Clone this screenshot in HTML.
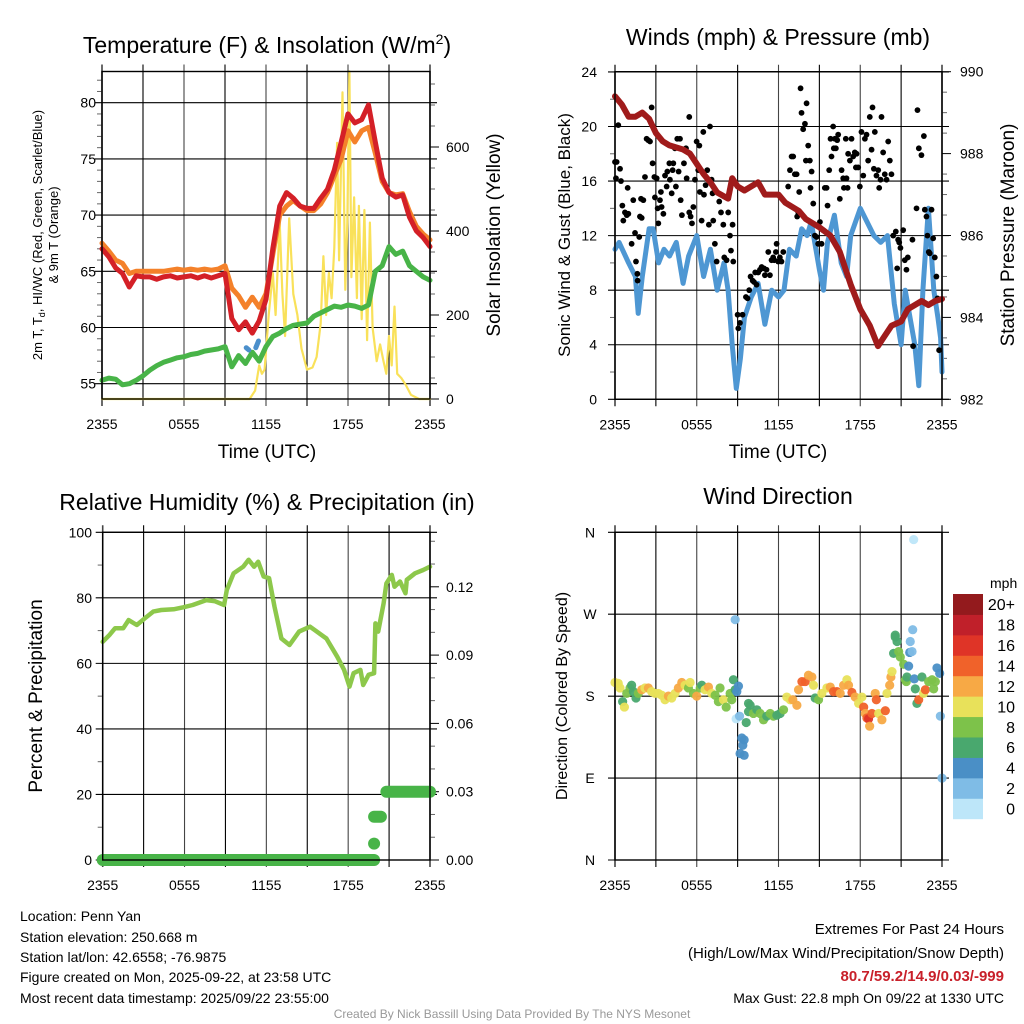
<!DOCTYPE html>
<html><head><meta charset="utf-8">
<style>
html,body{margin:0;padding:0;background:#fff;}
svg{display:block;font-family:"Liberation Sans",sans-serif;}
</style></head>
<body>
<svg id="c" width="1024" height="1024" viewBox="0 0 1024 1024" xmlns="http://www.w3.org/2000/svg">
<rect width="1024" height="1024" fill="#fff"/>
<g id="bg"></g>
<g id="marks"></g>
<g id="fg"></g>
<g id="txt" font-family="Liberation Sans, sans-serif" fill="#000">
 <text x="267" y="53" font-size="23" text-anchor="middle">Temperature (F) &amp; Insolation (W/m<tspan font-size="14" dy="-9">2</tspan><tspan dy="9">)</tspan></text>
 <text transform="translate(42,235) rotate(-90)" font-size="13" text-anchor="middle">2m T, T<tspan font-size="9" dy="3">d</tspan><tspan dy="-3">, HI/WC (Red, Green, Scarlet/Blue)</tspan></text>
 <text transform="translate(58,235) rotate(-90)" font-size="13" text-anchor="middle">&amp; 9m T (Orange)</text>
 <text transform="translate(500,235) rotate(-90)" font-size="19" text-anchor="middle">Solar Insolation (Yellow)</text>
 <text x="267" y="458" font-size="19" text-anchor="middle">Time (UTC)</text>

 <text x="778" y="45" font-size="23" text-anchor="middle">Winds (mph) &amp; Pressure (mb)</text>
 <text transform="translate(570,235) rotate(-90)" font-size="17" text-anchor="middle">Sonic Wind &amp; Gust (Blue, Black)</text>
 <text transform="translate(1014,235) rotate(-90)" font-size="19" text-anchor="middle">Station Pressure (Maroon)</text>
 <text x="778" y="458" font-size="19" text-anchor="middle">Time (UTC)</text>

 <text x="267" y="510" font-size="23" text-anchor="middle">Relative Humidity (%) &amp; Precipitation (in)</text>
 <text transform="translate(42,696) rotate(-90)" font-size="19" text-anchor="middle">Percent &amp; Precipitation</text>

 <text x="778" y="504" font-size="23" text-anchor="middle">Wind Direction</text>
 <text transform="translate(567,696) rotate(-90)" font-size="16" text-anchor="middle">Direction (Colored By Speed)</text>
 <text x="990" y="588" font-size="14">mph</text>

 <g font-size="14">
  <text x="20" y="921">Location: Penn Yan</text>
  <text x="20" y="942">Station elevation: 250.668 m</text>
  <text x="20" y="962">Station lat/lon: 42.6558; -76.9875</text>
  <text x="20" y="982">Figure created on Mon, 2025-09-22, at 23:58 UTC</text>
  <text x="20" y="1003">Most recent data timestamp: 2025/09/22 23:55:00</text>
 </g>
 <g text-anchor="end">
  <text x="1004" y="934" font-size="15">Extremes For Past 24 Hours</text>
  <text x="1004" y="958" font-size="15">(High/Low/Max Wind/Precipitation/Snow Depth)</text>
  <text x="1004" y="981" font-size="15" font-weight="bold" fill="#c8202a">80.7/59.2/14.9/0.03/-999</text>
  <text x="1004" y="1003" font-size="14">Max Gust: 22.8 mph On 09/22 at 1330 UTC</text>
 </g>
 <text x="512" y="1018" font-size="12" fill="#999" text-anchor="middle">Created By Nick Bassill Using Data Provided By The NYS Mesonet</text>
</g>
</svg>
<script>
// ---------------- DATA ----------------
const xTickLabels = ["2355","0555","1155","1755","2355"];
const tHours = [0,0.5,1,1.5,2,2.5,3,3.5,4,4.5,5,5.5,6,6.5,7,7.5,8,8.5,9,9.5,10,10.5,11,11.5,12,12.5,13,13.5,14,14.5,15,15.5,16,16.5,17,17.5,18,18.5,19,19.5,20,20.5,21,21.5,22,22.5,23,23.5,24];
const tempRed = [67,66.3,65.3,64.8,63.6,64.6,64.5,64.5,64.3,64.5,64.6,64.4,64.5,64.6,64.4,64.6,64.4,64.6,64.8,60.8,59.8,60.5,59.5,60.6,62.5,67,70.8,72,71.5,70.8,70.6,70.6,71.5,72.3,74,76.5,79,78.2,78.5,79.8,76.5,73.3,72,71.6,71.8,69.8,68.6,68,67.2];
const temp9m = [67.5,66.8,66,65.7,64.8,65,65,65,65,65,65.1,65.2,65.1,65.2,65.1,65.2,65.1,65.2,65.5,63.5,62.8,61.8,62.7,61.8,63,66.5,70,70.8,71.3,70.8,70.4,70.4,71,72,73.5,75,77.5,76.5,77.5,77.8,75.5,73,72,71.8,71.9,70.3,69,68.3,67.8];
const dewGreen = [55.3,55.5,55.4,54.9,55,55.3,55.7,56.2,56.6,56.9,57.1,57.3,57.4,57.6,57.7,57.9,58,58.1,58.3,56.5,57.5,56.8,57.8,57,58.3,59.2,59.5,59.9,60.2,60.3,60.4,61,61.3,61.6,61.9,61.8,62,61.9,61.7,62,65,65.5,67.2,66.5,66.8,65.5,65,64.5,64.2];
const hiHours = [10.55,10.75,11.25,11.45];
const hiBlue = [58.2,58.0,58.2,58.8];
const tempTicks = [55,60,65,70,75,80];
const solarHours = [0,10.8,11.2,11.5,11.7,11.9,12.2,12.5,12.7,13.0,13.2,13.4,13.7,14.0,14.3,14.6,15.0,15.4,15.7,16.0,16.2,16.4,16.6,16.8,17.0,17.2,17.35,17.6,17.8,17.95,18.1,18.25,18.45,18.65,18.8,19.0,19.2,19.4,19.6,19.8,20.1,20.35,20.6,20.8,21.0,21.2,21.4,21.6,21.9,22.2,22.6,23.2,24];
const solarVals = [0,0,20,80,60,70,200,300,200,420,250,150,430,250,200,120,70,75,100,180,340,200,300,240,360,610,330,730,260,420,780,290,480,240,460,190,450,140,420,170,90,130,90,60,150,80,220,60,50,35,10,0,0];
const solarTicks = [0,200,400,600];

const windHours = [0,0.3,1,1.5,1.7,2,2.5,2.8,3.2,3.6,4,4.5,5,5.4,6,6.5,7,7.5,8,8.3,8.6,8.9,9.2,9.5,10,10.5,11,11.5,12,12.4,12.8,13.3,13.7,14.1,14.4,15,15.3,15.6,16.1,16.6,17,17.3,18,18.5,19,19.5,20,20.5,21,21.3,22,22.3,22.6,23,23.4,23.7,23.9,24];
const windSpd = [11,11.5,10,9,6.3,9,12.5,12.5,10,11,10.5,11.5,8.5,10.5,12,9,11,8,10,8,4,0.8,3,6,7.5,8.5,5.5,8,7.5,8,11,10.5,12.5,12,13,9.5,8,11.5,13.5,10,9,12,14,13,12,11.5,12,7,4,8,4,1,8,14,8,6,4.5,2];
const gustHours = [0,0.12,0.24,0.07,0.37,0.44,0.54,0.61,0.73,0.86,0.98,0.93,1.22,1.34,1.47,1.54,1.66,1.64,1.78,1.83,1.96,1.91,2.08,2.2,2.32,2.44,2.57,2.69,2.76,2.89,2.93,3.06,3.13,3.18,3.3,3.37,3.42,3.55,3.67,3.79,3.84,3.99,4.03,4.16,4.23,4.28,4.4,4.47,4.57,4.67,4.77,4.82,4.91,5.06,5.21,5.26,5.45,5.45,5.55,5.65,5.75,5.87,5.99,6.11,6.19,6.23,6.36,6.48,6.53,6.65,6.77,6.89,6.97,7.09,7.16,7.21,7.33,7.46,7.65,7.78,7.95,8.02,8.19,8.31,8.44,8.51,8.63,8.68,9.0,9.05,9.17,9.36,9.61,9.73,9.85,9.95,10.1,10.2,10.29,10.39,10.51,10.64,10.76,10.93,11.0,11.12,11.25,11.37,11.49,11.61,11.69,11.81,11.86,11.98,12.1,12.22,12.35,12.71,12.84,12.96,13.08,13.2,13.33,13.37,13.45,13.52,13.62,13.69,13.81,13.94,14.01,14.06,14.18,14.3,14.35,14.43,14.55,14.67,14.79,14.91,15.04,15.16,15.28,15.4,15.53,15.6,15.72,15.82,15.89,16.01,16.06,16.14,16.21,16.31,16.38,16.5,16.63,16.75,16.8,16.94,16.99,17.07,17.11,17.24,17.36,17.48,17.6,17.68,17.73,17.85,17.97,18.09,18.22,18.34,18.46,18.58,18.7,18.83,18.9,19.0,19.07,19.19,19.32,19.39,19.49,19.56,19.68,19.8,19.93,20.05,20.17,20.29,20.42,20.61,20.78,20.86,20.95,21.15,20.71,21.27,21.39,21.49,21.83,21.88,22.13,22.2,22.3,22.49,22.67,22.74,22.86,22.93,23.03,23.1,23.23,23.35,23.47,23.59,23.67,23.79,23.96];
const gustSpd = [17.4,17.4,20.1,16.2,16.9,16.0,14.2,13.1,13.7,13.5,13.6,15.5,11.4,14.6,12.2,10.1,8.7,9.2,11.9,13.4,13.3,14.7,14.6,16.3,19.1,19.0,18.9,21.4,17.3,16.3,14.8,16.2,14.0,12.9,14.6,15.2,14.1,13.6,16.4,15.6,16.7,17.3,16.1,15.1,16.8,17.3,18.4,15.6,19.1,16.7,19.1,14.6,13.5,17.3,18.4,16.2,20.7,13.7,13.4,12.9,14.1,16.1,18.9,16.8,18.6,15.2,13.1,19.6,15.0,15.7,16.8,12.8,20.0,16.1,15.1,13.1,11.4,10.1,14.5,13.7,12.8,10.4,10.2,13.7,12.0,10.9,12.8,10.1,6.2,5.2,5.6,6.2,7.5,7.4,8.0,9.0,8.7,8.6,9.3,8.4,9.3,9.5,9.7,9.6,9.1,9.5,10.8,9.1,10.2,10.4,10.2,10.8,11.4,10.1,10.4,10.1,10.8,15.6,16.8,17.8,17.8,16.5,16.5,13.4,13.7,15.2,22.8,21.0,19.8,20.2,17.5,21.7,18.6,17.5,15.5,16.7,14.35,12.0,11.9,11.4,13.0,11.4,12.4,15.5,15.5,14.2,16.8,19.1,17.8,20.0,18.4,19.1,18.4,19.0,19.4,14.7,16.8,16.2,15.5,19.1,16.2,15.5,18.0,17.5,19.1,17.8,18.1,17.0,18.0,17.0,15.6,19.6,16.4,19.1,19.4,17.5,20.7,18.3,21.4,16.9,19.6,16.4,16.8,15.5,16.1,20.7,18.1,16.5,16.1,18.9,17.5,16.5,12.0,12.3,11.7,11.5,11.1,12.4,9.6,10.2,9.5,10.4,11.7,3.9,14.0,21.2,18.4,17.9,19.3,13.9,13.4,12.0,10.8,10.7,13.9,11.8,10.4,9.0,7.4,3.6];
const windTicks = [0,4,8,12,16,20,24];
const presHours = [0,0.5,1,1.5,2,2.5,3,3.5,4,5,5.5,6.5,7,7.5,8.3,8.6,9,9.5,10.5,11,12,12.5,13.5,14,15,15.8,16.5,17.3,18,18.7,19.3,19.7,20.3,21,21.5,22.5,23,23.5,24];
const presVals = [989.4,989.2,988.9,988.9,989.0,988.85,988.5,988.3,988.2,988.1,988.0,987.5,987.3,987.05,986.9,987.4,987.2,987.1,987.3,987.0,987.0,986.8,986.6,986.4,986.2,986.0,985.6,984.8,984.2,983.8,983.3,983.5,983.8,983.9,984.2,984.4,984.3,984.4,984.45];
const presTicks = [982,984,986,988,990];

const rhHours = [0,0.5,0.9,1.5,1.9,2.5,3.1,3.7,4.3,5.2,5.9,6.6,7.6,8.2,8.9,9.1,9.6,10.3,10.7,11.1,11.4,11.8,12.2,12.6,13.1,13.7,14.4,15.2,15.7,16.4,17.2,17.7,18.1,18.4,18.9,19.1,19.5,19.9,20.0,20.2,20.6,20.8,21.2,21.4,21.8,22.2,22.3,22.9,23.5,24];
const rhVals = [66.6,68.7,70.7,70.7,73.2,71.7,73.8,75.8,76.3,76.5,77.1,77.8,79.3,79.0,77.8,82.4,87.5,89.5,91.6,89.5,91.0,86.5,86.0,77.3,67.6,65.6,69.7,71.2,69.7,67.6,62.0,58.0,52.9,57.0,58.0,53.4,56.5,57.0,72.2,69.7,78.3,84.4,87.0,83.4,85.0,81.4,85.5,87.5,88.5,89.5];
const rhTicks = [0,20,40,60,80,100];
const precipHours = [0,19.9,19.9,20.4,20.8,24];
const precipVals = [0,0,0.019,0.019,0.03,0.03];
const precipDotHour = 19.9;
const precipDotVal = 0.0072;
const precipTicks = ["0.00","0.03","0.06","0.09","0.12"];

const dirHours = [0,0.24,0.37,0.56,0.69,0.86,1.1,1.22,1.35,1.54,1.71,1.96,2.2,2.45,2.69,2.94,3.18,3.43,3.67,3.92,4.16,4.41,4.65,4.9,5.14,5.39,5.51,5.76,6.0,6.25,6.37,6.61,6.86,7.1,7.35,7.59,7.71,7.96,8.16,8.45,8.57,8.69,8.82,8.94,9.06,8.82,8.89,9.14,9.31,9.48,9.38,9.18,9.48,9.63,9.8,9.92,9.8,10.16,10.41,10.65,10.9,11.14,11.39,11.63,11.88,12.12,12.37,12.61,12.86,13.05,13.35,13.47,13.72,13.96,14.2,14.45,14.57,14.69,14.94,15.18,15.55,15.8,16.04,16.29,16.53,16.78,17.02,17.14,17.39,17.63,17.88,18.12,18.25,18.37,18.49,18.61,18.69,18.86,19.1,19.18,19.35,19.59,19.84,19.96,20.16,20.25,20.33,20.45,20.57,20.7,20.57,20.82,20.94,21.19,21.31,21.38,21.43,21.63,21.67,21.8,21.85,21.55,21.97,22.04,22.16,22.29,22.53,22.65,22.78,23.02,23.27,23.39,23.51,23.63,23.83,23.88,24.0,21.92];
const dirDeg = [195,194,189,174,168,183,189,192,185,178,183,187,189,189,185,183,183,181,176,180,178,183,189,195,192,189,195,183,180,189,192,187,190,183,181,174,189,176,168,183,176,198,187,185,191,264,155,158,134,132,126,117,115,151,172,170,163,161,165,161,154,158,161,158,159,161,165,179,176,176,170,187,196,196,203,201,192,178,176,183,189,190,185,185,183,192,198,192,184,179,172,179,168,161,156,155,147,161,183,176,161,154,164,183,192,201,207,227,245,240,247,229,223,215,198,196,201,228,240,229,253,213,199,188,172,176,201,183,187,196,198,188,196,211,205,158,90,352];
const dirSpd = [11,10,10,7,10,9,8,7,7,6,8,12,11,12,11,10,10,10,10,12,10,11,12,13,11,9,10,8,12,8,7,11,12,10,9,8,8,10,8,8,9,6,6,4,4,2,1,2,4,4,4,4,4,6,6,6,6,8,6,8,8,7,8,8,7,6,8,10,10,12,12,12,14,14,12,12,10,6,8,10,11,12,14,14,12,12,10,12,14,12,10,10,14,13,14,16,12,14,12,14,10,12,14,10,12,12,10,6,6,6,6,8,8,8,8,8,7,4,2,2,2,4,4,6,6,14,6,11,14,8,8,8,8,4,4,3,3,1];
const dirTicks = ["N","E","S","W","N"];
const cbLabels = ["0","2","4","6","8","10","12","14","16","18","20+"];
const cbColors = ["#bde6f9","#7fbce6","#4a8fc6","#49a86e","#7dc24a","#e8e15a","#f7a945","#f0622a","#df3427","#c0202a","#931a1d"];

// ---------------- DRAWING ----------------
const NS = "http://www.w3.org/2000/svg";
const bg = document.getElementById('bg'), marks = document.getElementById('marks'), fg = document.getElementById('fg');
function mk(tag, attrs, parent){ const e=document.createElementNS(NS,tag); for(const k in attrs) e.setAttribute(k,attrs[k]); (parent||bg).appendChild(e); return e; }

const P1={x0:102,x1:430,y0:71.5,y1:399};
const P2={x0:615,x1:942,y0:71.7,y1:399.3};
const P3={x0:102.7,x1:430,y0:532.3,y1:860};
const P4={x0:615,x1:942,y0:532.3,y1:860};
function xs(P,h){ return P.x0 + h/24*(P.x1-P.x0); }
const yT = v => 383.7 - (v-55)*11.24;
const yS = v => 399 - v*0.42;
const yW = v => 399.3 - v*13.64;
const yP = v => 399.3 - (v-982)*40.95;
const yRH = v => 860 - v*3.277;
const yPr = v => 860 - v/0.03*68.3;
const yD = v => 860 - v*0.9103;

function frame(P, name, hy, rightTicks, rightMinor, leftMinor){
  const g = mk('g',{});
  
  
  for(let i=0;i<=8;i++){
    const x=P.x0+i*(P.x1-P.x0)/8;
    mk('line',{x1:x,x2:x,y1:P.y0-7,y2:P.y1+7,stroke:(i%2?'#000':'#444'),'stroke-width':(i==0||i==8)?1.6:1.1},g);
  }
  hy.forEach(y=>mk('line',{x1:P.x0-7,x2:P.x1+7,y1:y,y2:y,stroke:'#000','stroke-width':1.1},g));
  (rightTicks||[]).forEach(y=>mk('line',{x1:P.x1,x2:P.x1+9,y1:y,y2:y,stroke:'#000','stroke-width':1},g));
  (rightMinor||[]).forEach(y=>mk('line',{x1:P.x1,x2:P.x1+5,y1:y,y2:y,stroke:'#666','stroke-width':1},g));
  (leftMinor||[]).forEach(y=>mk('line',{x1:P.x0-5,x2:P.x0,y1:y,y2:y,stroke:'#666','stroke-width':1},g));
  mk('rect',{x:P.x0,y:P.y0,width:P.x1-P.x0,height:P.y1-P.y0,fill:'none',stroke:'#000','stroke-width':1.4},fg);
  xTickLabels.forEach((t,i)=>{
    const e=mk('text',{x:P.x0+i*(P.x1-P.x0)/4,y:P.y1+30,'font-size':14,'text-anchor':'middle'},fg);
    
    
    e.textContent=t;
  });
}
function label(x,y,t,anchor,name){
  const e=mk('text',{x:x,y:y+5,'font-size':14,'text-anchor':anchor},fg);
  
  
  e.textContent=t; return e;
}
function path(xsArr, ysArr, P, yf, attrs, name){
  let d='';
  const n=Math.min(xsArr.length, ysArr.length);
  for(let i=0;i<n;i++){ d+=(i?'L':'M')+xs(P,xsArr[i]).toFixed(1)+','+yf(ysArr[i]).toFixed(1); }
  const e=mk('path',Object.assign({d:d,fill:'none','stroke-linejoin':'round','stroke-linecap':'round'},attrs),marks);
  
  
  return e;
}

// Panel 1
const p1Minor=[]; for(let t=56;t<=82;t++) if(t%5) p1Minor.push(yT(t));
const s1Minor=[]; for(let w=50;w<=750;w+=50) if(w%200) s1Minor.push(yS(w));
frame(P1,'temp',tempTicks.map(yT),solarTicks.map(yS),s1Minor,p1Minor.filter(y=>y>P1.y0&&y<P1.y1));
tempTicks.forEach(t=>label(96,yT(t),String(t),'end','temp-y-tick-label'));
solarTicks.forEach(t=>label(446,yS(t),String(t),'start','solar-y-tick-label'));
path(solarHours,solarVals,P1,yS,{stroke:'#f9e15a','stroke-width':2.2},'solar-insolation-line');
path(tHours,dewGreen,P1,yT,{stroke:'#48b448','stroke-width':5},'dewpoint-line');
path(tHours,temp9m,P1,yT,{stroke:'#f4812a','stroke-width':5},'temp-9m-line');
path(tHours,tempRed,P1,yT,{stroke:'#d42027','stroke-width':5},'temp-2m-line');
path(hiHours.slice(0,2),hiBlue.slice(0,2),P1,yT,{stroke:'#4b8fcb','stroke-width':5},'windchill-segment-1');
path(hiHours.slice(2),hiBlue.slice(2),P1,yT,{stroke:'#4b8fcb','stroke-width':5},'windchill-segment-2');

// Panel 2
const w2Minor=[]; for(let v=2;v<24;v+=4) w2Minor.push(yW(v));
const p2Minor=[]; for(let p=982.5;p<990;p+=0.5) if(p%2) p2Minor.push(yP(p));
frame(P2,'wind',windTicks.map(yW),presTicks.map(yP),p2Minor,w2Minor);
windTicks.forEach(t=>label(597,yW(t),String(t),'end','wind-y-tick-label'));
presTicks.forEach(t=>label(960,yP(t),String(t),'start','pressure-y-tick-label'));
path(windHours,windSpd,P2,yW,{stroke:'#4e97d3','stroke-width':5},'sonic-wind-line');
const nG=Math.min(gustHours.length,gustSpd.length);
for(let i=0;i<nG;i++){
  const c=mk('circle',{cx:xs(P2,gustHours[i]),cy:yW(gustSpd[i]),r:2.9,fill:'#000'},marks);
  
  
}
path(presHours,presVals,P2,yP,{stroke:'#a01b1b','stroke-width':6},'pressure-line');

// Panel 3
const r3Minor=[]; for(let v=10;v<100;v+=20) r3Minor.push(yRH(v));
const pr3Minor=[]; for(let v=0.01;v<0.145;v+=0.01) if(Math.round(v*100)%3) pr3Minor.push(yPr(v));
frame(P3,'rh',rhTicks.map(yRH),[0,0.03,0.06,0.09,0.12].map(yPr),pr3Minor,r3Minor);
rhTicks.forEach(t=>label(92,yRH(t),String(t),'end','rh-y-tick-label'));
precipTicks.forEach(t=>label(446,yPr(parseFloat(t)),t,'start','precip-y-tick-label'));
path(rhHours,rhVals,P3,yRH,{stroke:'#8dc84b','stroke-width':4.5},'relative-humidity-line');
path(precipHours.slice(0,2),precipVals.slice(0,2),P3,yPr,{stroke:'#48b448','stroke-width':12},'precip-line-zero');
path(precipHours.slice(2,4),precipVals.slice(2,4),P3,yPr,{stroke:'#48b448','stroke-width':12},'precip-line-mid');
path(precipHours.slice(4),precipVals.slice(4),P3,yPr,{stroke:'#48b448','stroke-width':12},'precip-line-total');
const pd=mk('circle',{cx:xs(P3,precipDotHour),cy:yPr(precipDotVal),r:6,fill:'#48b448'},marks);



// Panel 4
frame(P4,'direction',[0,90,180,270,360].map(yD),[],[],[]);
dirTicks.forEach((t,i)=>label(590,yD(i*90),t,'middle','direction-y-tick-label'));
const nD=Math.min(dirHours.length,dirDeg.length,dirSpd.length);
for(let i=0;i<nD;i++){
  const b=Math.max(0,Math.min(10,Math.floor(dirSpd[i]/2)));
  const c=mk('circle',{cx:xs(P4,dirHours[i]),cy:yD(dirDeg[i]),r:4.6,fill:cbColors[b],'fill-opacity':0.95},marks);
  
  
}
// colorbar
const cbTop=594, cbBot=818.7, cbH=(cbBot-cbTop)/cbColors.length;
cbColors.forEach((col,i)=>{
  const y=cbBot-(i+1)*cbH;
  const r=mk('rect',{x:953,y:y,width:30,height:cbH+0.5,fill:col},fg);
  
  
  const t=mk('text',{x:1015,y:y+cbH/2+6,'font-size':16,'text-anchor':'end'},fg);
  
  
  t.textContent=cbLabels[i];
});
</script>
</body></html>
